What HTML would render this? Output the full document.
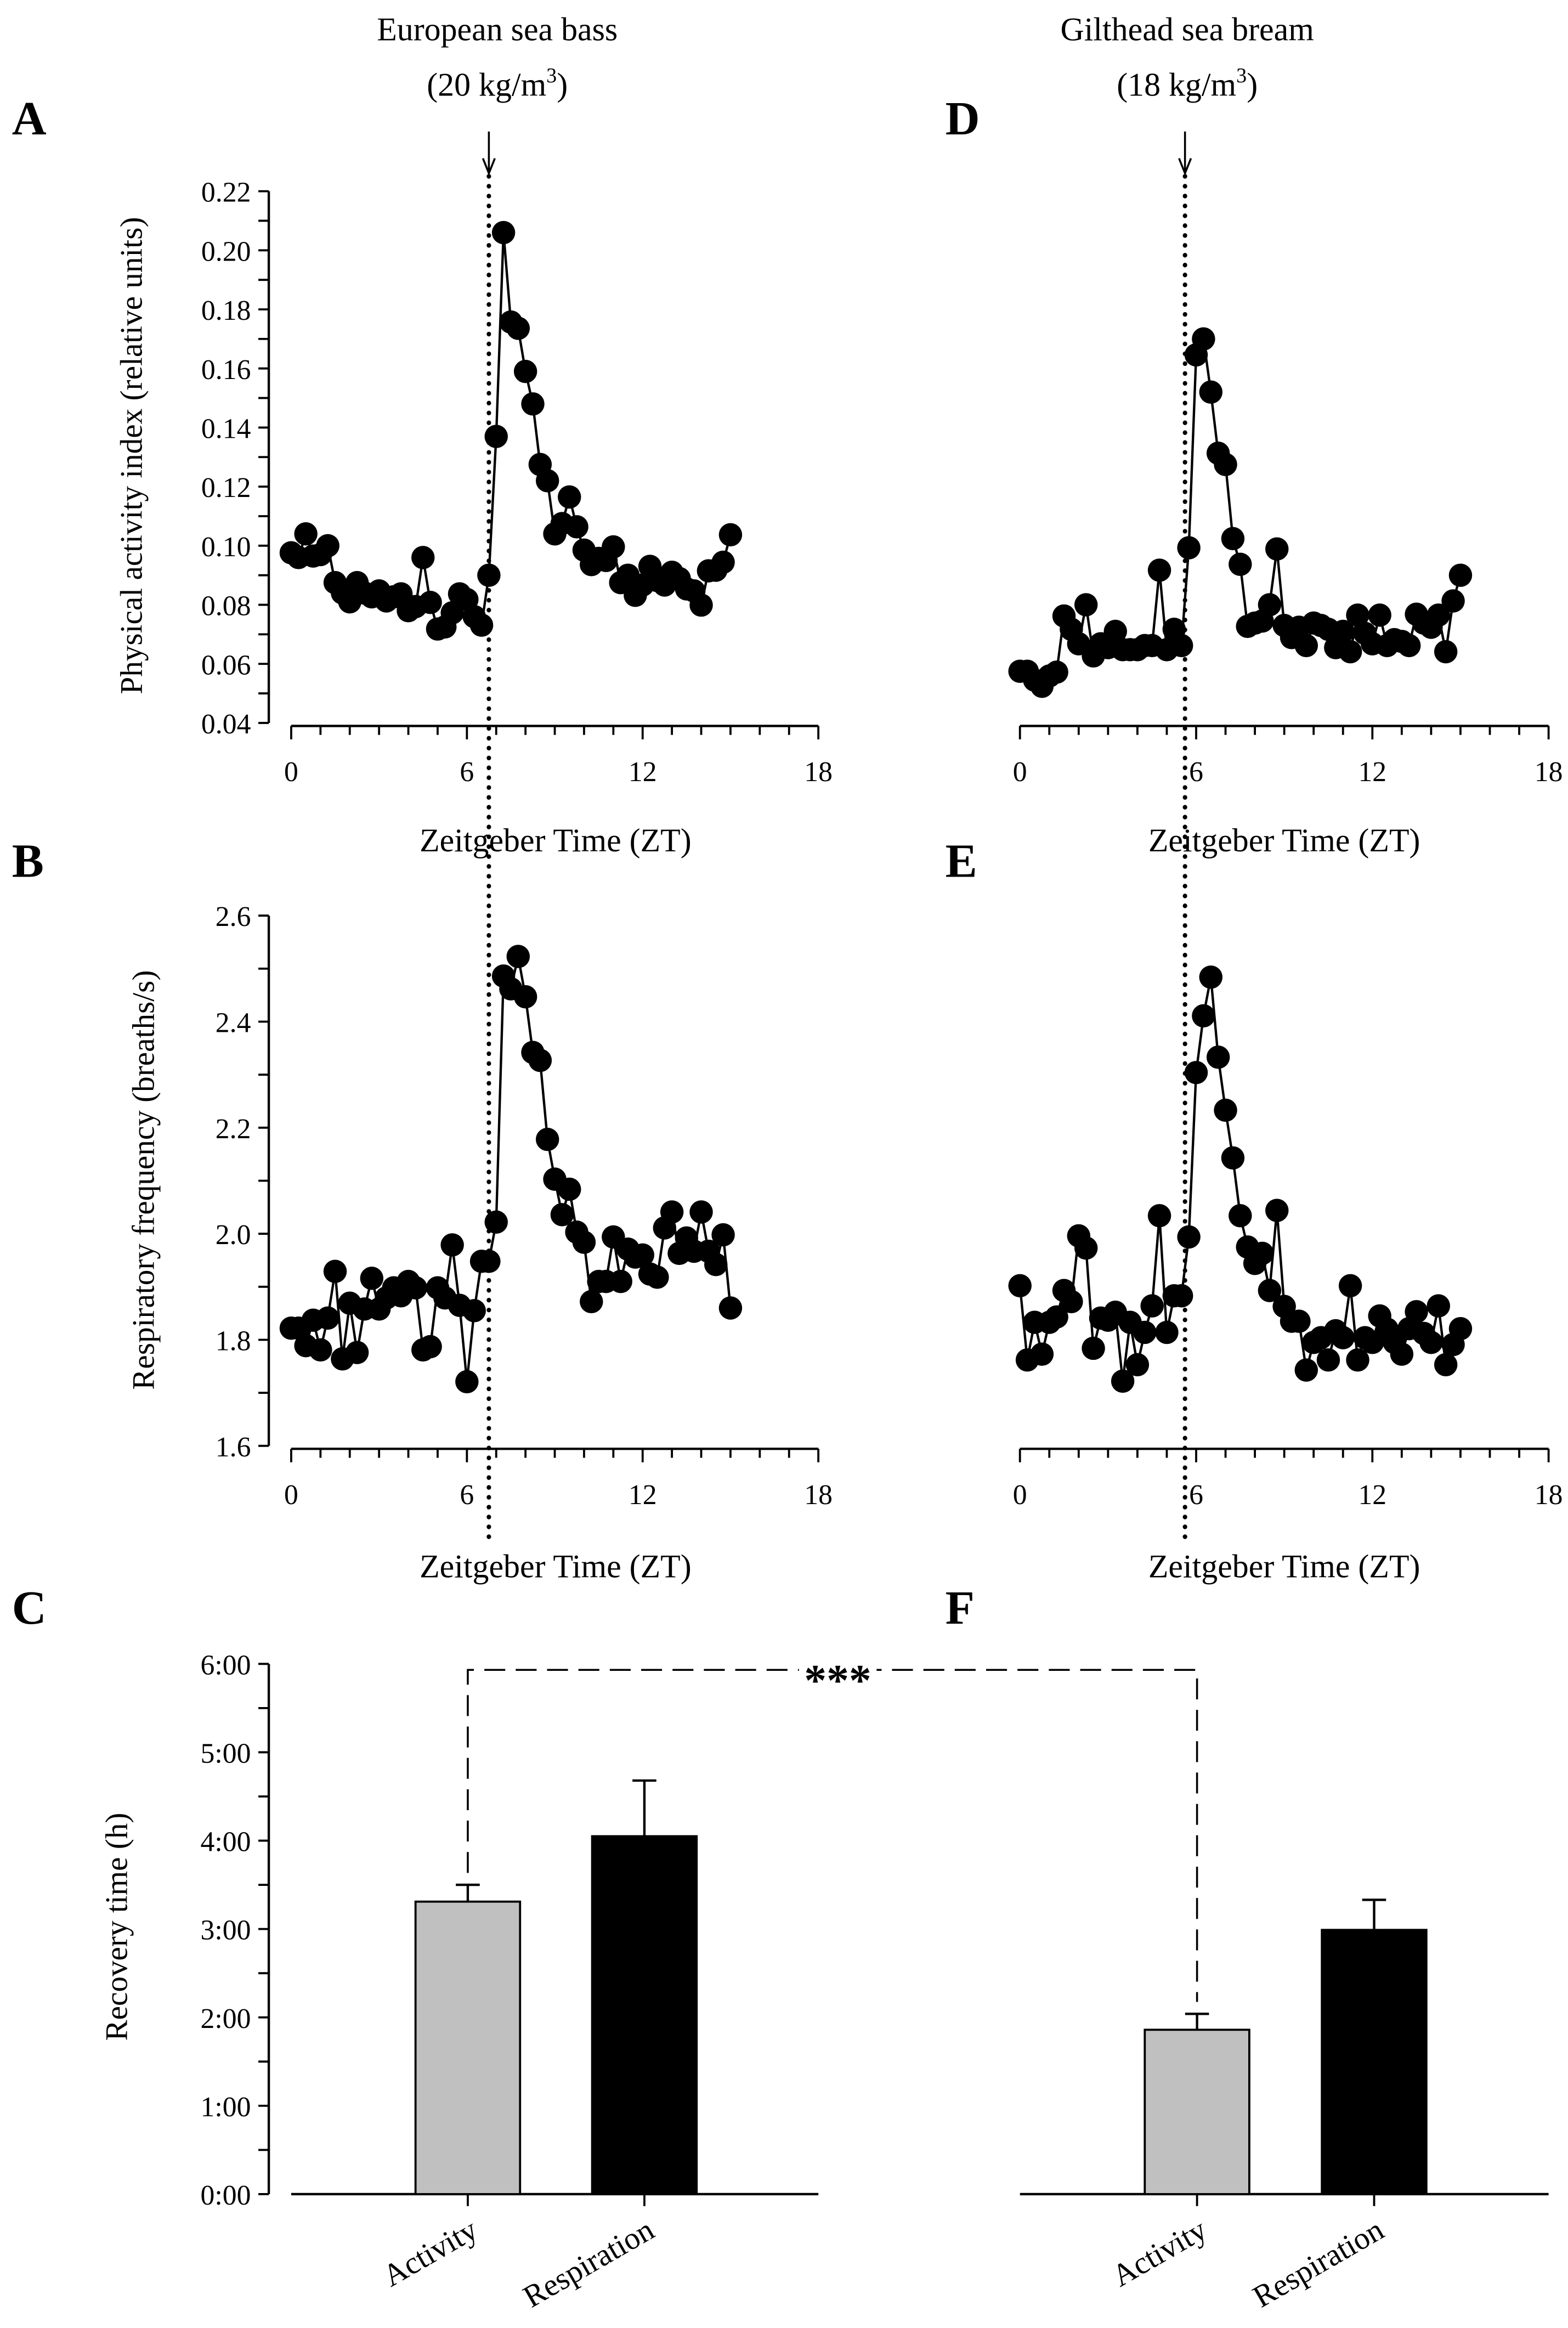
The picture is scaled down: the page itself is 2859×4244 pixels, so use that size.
<!DOCTYPE html>
<html><head><meta charset="utf-8">
<style>
html,body{margin:0;padding:0;background:#fff;}
svg{display:block;}
svg text{font-family:"Liberation Serif","DejaVu Serif","Times New Roman",serif;fill:#000;}
</style></head>
<body>
<svg id="fig" xmlns="http://www.w3.org/2000/svg" width="2859" height="4244" viewBox="0 0 1050 1558.6">
<rect width="1050" height="1558.6" fill="#fff"/>
<text x="333" y="27" font-size="22" text-anchor="middle">European sea bass</text>
<text x="333" y="64" font-size="22" text-anchor="middle">(20 kg/m<tspan dy="-9" font-size="14">3</tspan><tspan dy="9">)</tspan></text>
<text x="795" y="27" font-size="22" text-anchor="middle">Gilthead sea bream</text>
<text x="795" y="64" font-size="22" text-anchor="middle">(18 kg/m<tspan dy="-9" font-size="14">3</tspan><tspan dy="9">)</tspan></text>
<text x="8" y="90" font-size="32" font-weight="bold">A</text>
<text x="8" y="587" font-size="32" font-weight="bold">B</text>
<text x="8" y="1087" font-size="32" font-weight="bold">C</text>
<text x="633" y="90" font-size="32" font-weight="bold">D</text>
<text x="633" y="587" font-size="32" font-weight="bold">E</text>
<text x="633" y="1087" font-size="32" font-weight="bold">F</text>
<text transform="translate(95,305) rotate(-90)" font-size="21" text-anchor="middle">Physical activity index (relative units)</text>
<text transform="translate(103,790) rotate(-90)" font-size="21" text-anchor="middle">Respiratory frequency (breaths/s)</text>
<text transform="translate(85,1290) rotate(-90)" font-size="21" text-anchor="middle">Recovery time (h)</text>
<text x="372" y="570" font-size="22" text-anchor="middle">Zeitgeber Time (ZT)</text>
<text x="860" y="570" font-size="22" text-anchor="middle">Zeitgeber Time (ZT)</text>
<text x="372" y="1056" font-size="22" text-anchor="middle">Zeitgeber Time (ZT)</text>
<text x="860" y="1056" font-size="22" text-anchor="middle">Zeitgeber Time (ZT)</text>
<g id="plots"></g>
</svg>
<script>
const ztTimes = [0,0.25,0.5,0.75,1,1.25,1.5,1.75,2,2.25,2.5,2.75,3,3.25,3.5,3.75,4,4.25,4.5,4.75,5,5.25,5.5,5.75,6,6.25,6.5,6.75,7,7.25,7.5,7.75,8,8.25,8.5,8.75,9,9.25,9.5,9.75,10,10.25,10.5,10.75,11,11.25,11.5,11.75,12,12.25,12.5,12.75,13,13.25,13.5,13.75,14,14.25,14.5,14.75,15];
const activityBass = [0.0976,0.096,0.104,0.0965,0.097,0.100,0.0875,0.084,0.081,0.0875,0.084,0.0827,0.0847,0.0813,0.0827,0.0837,0.078,0.0794,0.096,0.0808,0.0718,0.0725,0.0773,0.0837,0.0818,0.076,0.0731,0.090,0.137,0.206,0.1757,0.1736,0.159,0.148,0.1275,0.122,0.104,0.1075,0.1165,0.1064,0.0985,0.0936,0.0957,0.095,0.0996,0.0875,0.090,0.0832,0.0867,0.093,0.0882,0.0867,0.091,0.0889,0.0854,0.0847,0.0799,0.0915,0.0917,0.0944,0.1037];
const activityBream = [0.0575,0.0575,0.0545,0.0524,0.0559,0.0572,0.0762,0.0717,0.0668,0.080,0.0627,0.0668,0.0655,0.071,0.0648,0.0648,0.0648,0.0662,0.0662,0.0917,0.0648,0.0717,0.0662,0.0993,0.1646,0.170,0.152,0.1313,0.1275,0.1024,0.0937,0.0727,0.0738,0.0745,0.080,0.0989,0.073,0.0689,0.0724,0.0662,0.0738,0.073,0.0717,0.0655,0.071,0.0641,0.0765,0.0703,0.0668,0.0765,0.0662,0.0682,0.0676,0.0662,0.0768,0.0738,0.0724,0.0765,0.0641,0.0813,0.090];
const respBass = [1.822,1.822,1.789,1.837,1.781,1.841,1.929,1.764,1.869,1.776,1.858,1.916,1.858,1.879,1.898,1.883,1.910,1.898,1.781,1.787,1.898,1.879,1.979,1.865,1.721,1.855,1.948,1.948,2.022,2.486,2.462,2.523,2.447,2.342,2.327,2.178,2.103,2.036,2.084,2.003,1.984,1.872,1.910,1.910,1.994,1.910,1.971,1.956,1.960,1.924,1.918,2.011,2.041,1.963,1.992,1.967,2.041,1.967,1.942,1.998,1.860];
const respBream = [1.902,1.762,1.833,1.773,1.833,1.843,1.893,1.872,1.996,1.973,1.784,1.841,1.837,1.852,1.722,1.833,1.753,1.814,1.864,2.034,1.814,1.883,1.883,1.994,2.304,2.411,2.484,2.333,2.233,2.143,2.034,1.975,1.944,1.963,1.893,2.044,1.863,1.835,1.835,1.743,1.795,1.804,1.762,1.817,1.804,1.902,1.762,1.804,1.795,1.845,1.820,1.795,1.773,1.821,1.853,1.812,1.795,1.864,1.753,1.791,1.821];
const activityTicks = ["0.04","0.06","0.08","0.10","0.12","0.14","0.16","0.18","0.20","0.22"];
const respTicks = ["1.6","1.8","2.0","2.2","2.4","2.6"];
const ztTicks = [0,6,12,18];
const recoveryTicks = ["0:00","1:00","2:00","3:00","4:00","5:00","6:00"];
const barCategories = ["Activity","Respiration"];
const recoveryBass = [3.31,4.05];
const recoveryBassErr = [0.19,0.63];
const recoveryBream = [1.86,2.99];
const recoveryBreamErr = [0.18,0.34];
const stimulusBass = 6.75;
const stimulusBream = 5.62;

const NS="http://www.w3.org/2000/svg";
const root=document.getElementById('plots');
function mk(tag,attrs,parent){const e=document.createElementNS(NS,tag);for(const k in attrs)e.setAttribute(k,attrs[k]);(parent||root).appendChild(e);return e;}
function lin(d0,d1,r0,r1){return v=>r0+(v-d0)/(d1-d0)*(r1-r0);}

function yAxis(g,x,yTop,yBot,labels,minorPerMajor,name){
  const ax=mk('line',{x1:x,y1:yTop,x2:x,y2:yBot,stroke:'#000','stroke-width':1.6},g);
  
  
  const n=(labels.length-1)*minorPerMajor;
  for(let i=0;i<=n;i++){const y=yBot-(yBot-yTop)*i/n;mk('line',{x1:x-7,y1:y,x2:x,y2:y,stroke:'#000','stroke-width':1.4},g);}
  labels.forEach((l,i)=>{const y=yBot-(yBot-yTop)*i/(labels.length-1);
    const t=mk('text',{x:x-12,y:y+7,'font-size':19,'text-anchor':'end'},g);t.textContent=l;
    
    });
}
function xAxis(g,xs,y,name){
  const ax=mk('line',{x1:xs(0),y1:y,x2:xs(18),y2:y,stroke:'#000','stroke-width':1.6},g);
  
  
  for(let i=0;i<=18;i++){const major=ztTicks.includes(i);mk('line',{x1:xs(i),y1:y,x2:xs(i),y2:y+(major?9:6),stroke:'#000','stroke-width':1.4},g);}
  ztTicks.forEach(v=>{const t=mk('text',{x:xs(v),y:y+37,'font-size':19,'text-anchor':'middle'},g);t.textContent=v;
    
    });
}
function series(g,xs,ys,vals,name){
  const pts=ztTimes.map((t,i)=>xs(t)+','+ys(vals[i])).join(' ');
  const pl=mk('polyline',{points:pts,fill:'none',stroke:'#000','stroke-width':1.6},g);
  
  
  ztTimes.forEach((t,i)=>{const c=mk('circle',{cx:xs(t),cy:ys(vals[i]),r:7.8,fill:'#000'},g);
    
    });
}
function panel(x0,x18,yTop,yBot,dmin,dmax,vals,labels,showY,name){
  const g=mk('g',{});
  
  
  const xs=lin(0,18,x0,x18), ys=lin(dmin,dmax,yBot,yTop);
  if(showY) yAxis(g,180,yTop,yBot,labels,2,name+'-y-axis');
  xAxis(g,xs,yBot+2,name+'-x-axis');
  series(g,xs,ys,vals,name);
  return xs;
}
const xsA=panel(195,548,128,484,0.04,0.22,activityBass,activityTicks,true,'panel-a-activity-bass');
const xsD=panel(683,1037,128,484,0.04,0.22,activityBream,activityTicks,false,'panel-d-activity-bream');
panel(195,548,613,968,1.6,2.6,respBass,respTicks,true,'panel-b-respiration-bass');
panel(683,1037,613,968,1.6,2.6,respBream,respTicks,false,'panel-e-respiration-bream');

[[xsA(stimulusBass),'stimulus-line-bass'],[xsD(stimulusBream),'stimulus-line-bream']].forEach(([x,n])=>{
  const l=mk('line',{x1:x,y1:118,x2:x,y2:1030,stroke:'#000','stroke-width':3,'stroke-dasharray':'0.1 6.5','stroke-linecap':'round'});
  
  
  const a=mk('path',{d:`M${x} 88 L${x} 116 M${x-4} 106 L${x} 116 L${x+4} 106`,stroke:'#000','stroke-width':1.3,fill:'none'});
  
  
});

const rTop=1114,rBot=1469;
const ysR=lin(0,6,rBot,rTop);
const gC=mk('g',{});


yAxis(gC,180,rTop,rBot,recoveryTicks,2,'recovery-y-axis');
function bars(g,x0,x1,vals,errs,name){
  const base=mk('line',{x1:x0,y1:rBot,x2:x1,y2:rBot,stroke:'#000','stroke-width':1.6},g);
  
  
  const centers=[x0+(x1-x0)*0.335,x0+(x1-x0)*0.67];
  const w=70;
  barCategories.forEach((c,i)=>{
    const cx=centers[i],top=ysR(vals[i]),et=ysR(vals[i]+errs[i]);
    const e=mk('path',{d:`M${cx} ${top} L${cx} ${et} M${cx-8} ${et} L${cx+8} ${et}`,stroke:'#000','stroke-width':1.6,fill:'none'},g);
    
    
    const r=mk('rect',{x:cx-w/2,y:top,width:w,height:rBot-top,fill:i===0?'#c0c0c0':'#000',stroke:'#000','stroke-width':1.4},g);
    
    
    mk('line',{x1:cx,y1:rBot,x2:cx,y2:rBot+8,stroke:'#000','stroke-width':1.4},g);
    const t=mk('text',{transform:`translate(${cx+8},${rBot+28}) rotate(-30)`,'font-size':21,'text-anchor':'end'},g);
    t.textContent=c;
    
    
  });
  return centers;
}
const cC=bars(gC,195,548,recoveryBass,recoveryBassErr,'bass');
const gF=mk('g',{});


const cF=bars(gF,683,1037,recoveryBream,recoveryBreamErr,'bream');
const yB=1118;
const br=mk('path',{d:`M${cC[0]} ${ysR(recoveryBass[0]+recoveryBassErr[0])-8} L${cC[0]} ${yB} L${cF[0]} ${yB} L${cF[0]} ${ysR(recoveryBream[0]+recoveryBreamErr[0])-8}`,fill:'none',stroke:'#000','stroke-width':1.3,'stroke-dasharray':'14 7'});


const bg=mk('rect',{x:535,y:1105,width:52,height:26,fill:'#fff'});


const st=mk('text',{x:561,y:1135,'font-size':30,'font-weight':'bold','text-anchor':'middle'});
st.textContent='***';


</script>
</body></html>
